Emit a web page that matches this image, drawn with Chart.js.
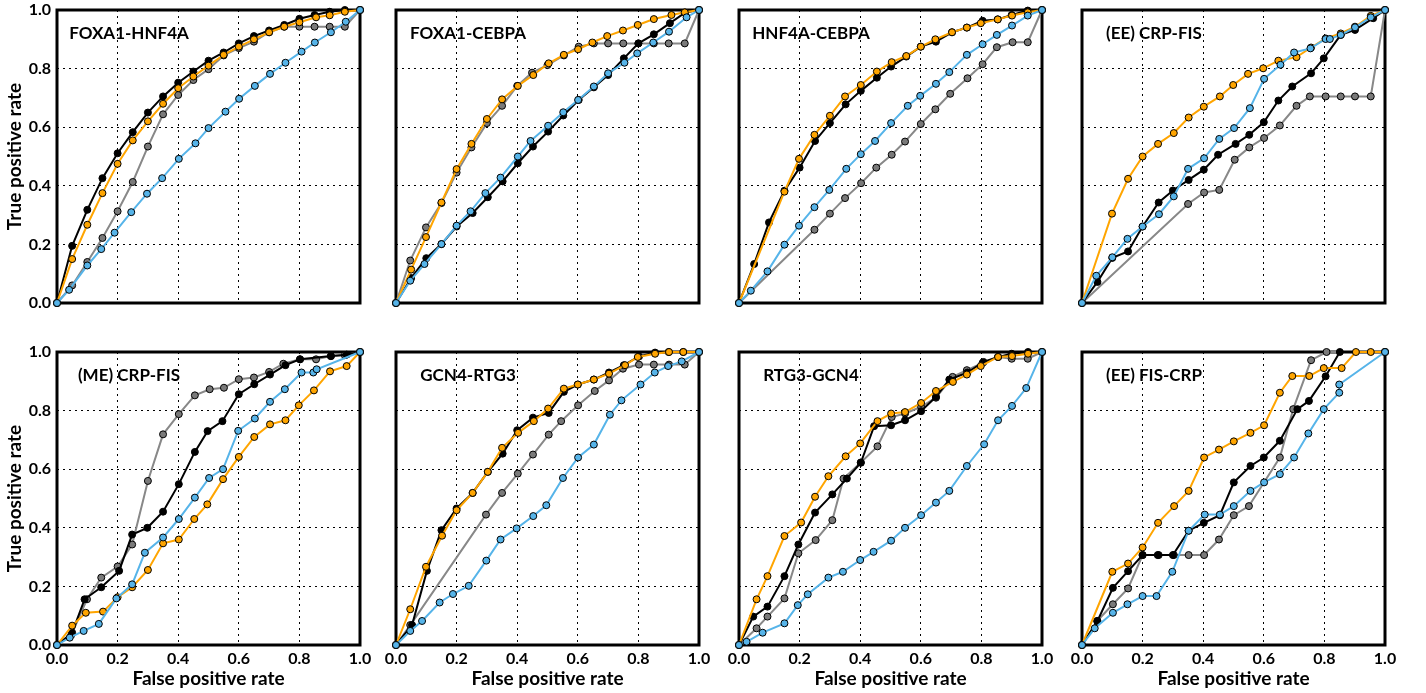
<!DOCTYPE html>
<html>
<head>
<meta charset="utf-8">
<script src="https://cdn.jsdelivr.net/npm/chart.js@4"></script>
<style>
  html, body { margin: 0; padding: 0; background: #fff; }
  body { width: 1426px; height: 693px; position: relative; overflow: hidden; }
  canvas { position: absolute; }
</style>
</head>
<body>
<script>
// panel names, left to right, top to bottom
const panelTitles = ['FOXA1-HNF4A', 'FOXA1-CEBPA', 'HNF4A-CEBPA', '(EE) CRP-FIS',
                     '(ME) CRP-FIS', 'GCN4-RTG3', 'RTG3-GCN4', '(EE) FIS-CRP'];
const tickLabels = ['0.0', '0.2', '0.4', '0.6', '0.8', '1.0'];
const xTitle = 'False positive rate';
const yTitle = 'True positive rate';

// ROC points [fpr, tpr]
const foxa1Hnf4aBlack = [[0,0],[0.05,0.195],[0.1,0.318],[0.15,0.426],[0.2,0.511],[0.25,0.583],[0.3,0.65],[0.35,0.705],[0.4,0.752],[0.45,0.79],[0.5,0.827],[0.55,0.855],[0.6,0.886],[0.65,0.911],[0.7,0.93],[0.75,0.949],[0.8,0.97],[0.85,0.983],[0.9,0.994],[0.95,1],[1,1]];
const foxa1Hnf4aOrange = [[0,0],[0.05,0.15],[0.1,0.267],[0.15,0.375],[0.2,0.475],[0.25,0.555],[0.3,0.62],[0.35,0.68],[0.4,0.733],[0.45,0.773],[0.5,0.81],[0.55,0.847],[0.6,0.875],[0.65,0.9],[0.7,0.924],[0.75,0.943],[0.8,0.958],[0.855,0.975],[0.9,0.982],[0.95,0.994],[1,1]];
const foxa1Hnf4aGray = [[0,0],[0.05,0.06],[0.1,0.14],[0.15,0.222],[0.2,0.313],[0.25,0.413],[0.3,0.534],[0.35,0.644],[0.4,0.71],[0.45,0.761],[0.5,0.798],[0.55,0.845],[0.6,0.87],[0.65,0.892],[0.7,0.924],[0.75,0.943],[0.8,0.943],[0.85,0.943],[0.9,0.943],[0.95,0.943],[1,1]];
const foxa1Hnf4aBlue = [[0,0],[0.04,0.045],[0.1,0.128],[0.146,0.184],[0.19,0.24],[0.245,0.31],[0.297,0.373],[0.347,0.426],[0.402,0.492],[0.457,0.545],[0.5,0.597],[0.556,0.653],[0.601,0.697],[0.653,0.741],[0.703,0.782],[0.754,0.82],[0.807,0.858],[0.851,0.889],[0.904,0.924],[0.953,0.96],[1,1]];

const foxa1CebpaBlack = [[0,0],[0.05,0.085],[0.1,0.153],[0.15,0.201],[0.2,0.261],[0.253,0.307],[0.303,0.361],[0.352,0.415],[0.402,0.477],[0.452,0.534],[0.502,0.585],[0.552,0.64],[0.603,0.693],[0.653,0.736],[0.7,0.778],[0.752,0.835],[0.8,0.886],[0.851,0.917],[0.904,0.955],[0.954,0.991],[1,1]];
const foxa1CebpaOrange = [[0,0],[0.05,0.114],[0.099,0.225],[0.15,0.343],[0.2,0.457],[0.249,0.543],[0.3,0.628],[0.35,0.695],[0.402,0.741],[0.453,0.778],[0.504,0.818],[0.554,0.847],[0.601,0.866],[0.648,0.889],[0.697,0.911],[0.749,0.93],[0.798,0.949],[0.851,0.969],[0.909,0.983],[0.953,0.992],[1,1]];
const foxa1CebpaGray = [[0,0],[0.047,0.145],[0.099,0.258],[0.15,0.341],[0.2,0.445],[0.249,0.531],[0.3,0.614],[0.35,0.673],[0.4,0.741],[0.449,0.786],[0.5,0.812],[0.554,0.845],[0.603,0.875],[0.653,0.886],[0.7,0.886],[0.75,0.886],[0.8,0.886],[0.851,0.886],[0.9,0.886],[0.953,0.886],[1,1]];
const foxa1CebpaBlue = [[0,0],[0.047,0.076],[0.094,0.133],[0.15,0.201],[0.2,0.264],[0.246,0.313],[0.295,0.375],[0.345,0.428],[0.402,0.5],[0.444,0.553],[0.502,0.605],[0.552,0.651],[0.601,0.693],[0.653,0.739],[0.7,0.784],[0.754,0.82],[0.796,0.852],[0.849,0.889],[0.901,0.926],[0.959,0.975],[1,1]];

const hnf4aCebpaBlack = [[0,0],[0.05,0.133],[0.099,0.275],[0.15,0.383],[0.2,0.462],[0.251,0.553],[0.3,0.614],[0.352,0.678],[0.402,0.724],[0.455,0.769],[0.502,0.807],[0.552,0.841],[0.6,0.875],[0.65,0.892],[0.703,0.924],[0.752,0.94],[0.804,0.963],[0.854,0.968],[0.9,0.983],[0.953,0.998],[1,1]];
const hnf4aCebpaOrange = [[0,0],[0.15,0.38],[0.198,0.492],[0.249,0.574],[0.3,0.639],[0.35,0.705],[0.402,0.744],[0.455,0.79],[0.504,0.822],[0.552,0.843],[0.6,0.875],[0.648,0.9],[0.703,0.924],[0.752,0.94],[0.798,0.955],[0.854,0.968],[0.901,0.981],[0.953,0.992],[1,1]];
const hnf4aCebpaGray = [[0,0],[0.249,0.25],[0.3,0.305],[0.35,0.358],[0.403,0.409],[0.453,0.462],[0.504,0.506],[0.548,0.551],[0.6,0.611],[0.648,0.661],[0.697,0.714],[0.754,0.767],[0.804,0.815],[0.851,0.873],[0.903,0.89],[0.953,0.89],[1,1]];
const hnf4aCebpaBlue = [[0,0],[0.039,0.042],[0.094,0.108],[0.15,0.199],[0.198,0.264],[0.249,0.327],[0.298,0.386],[0.354,0.458],[0.402,0.508],[0.449,0.553],[0.502,0.614],[0.557,0.673],[0.598,0.707],[0.65,0.748],[0.694,0.788],[0.752,0.847],[0.804,0.883],[0.851,0.915],[0.901,0.947],[0.953,0.981],[1,1]];

const eeCrpFisBlack = [[0,0],[0.051,0.072],[0.1,0.154],[0.152,0.176],[0.2,0.261],[0.253,0.343],[0.3,0.384],[0.352,0.42],[0.402,0.455],[0.449,0.506],[0.507,0.543],[0.552,0.574],[0.6,0.617],[0.648,0.691],[0.694,0.739],[0.756,0.784],[0.798,0.835],[0.854,0.915],[0.901,0.932],[0.961,0.972],[1,1]];
const eeCrpFisOrange = [[0,0],[0.099,0.305],[0.152,0.424],[0.2,0.5],[0.251,0.543],[0.303,0.58],[0.352,0.633],[0.402,0.67],[0.455,0.705],[0.499,0.744],[0.548,0.782],[0.598,0.801],[0.648,0.827],[0.708,0.839],[0.756,0.872],[0.804,0.903],[0.854,0.92],[0.901,0.943],[0.953,0.98],[1,1]];
const eeCrpFisGray = [[0,0],[0.35,0.338],[0.403,0.377],[0.453,0.386],[0.504,0.489],[0.552,0.531],[0.601,0.563],[0.653,0.606],[0.708,0.673],[0.752,0.705],[0.804,0.705],[0.854,0.705],[0.901,0.705],[0.953,0.705],[1,1]];
const eeCrpFisBlue = [[0,0],[0.047,0.093],[0.1,0.156],[0.15,0.219],[0.2,0.261],[0.254,0.303],[0.303,0.364],[0.35,0.458],[0.403,0.494],[0.453,0.56],[0.502,0.597],[0.554,0.665],[0.601,0.765],[0.655,0.813],[0.7,0.855],[0.754,0.869],[0.804,0.901],[0.818,0.901],[0.854,0.915],[0.901,0.941],[0.953,0.975],[1,1]];

const meCrpFisBlack = [[0,0],[0.05,0.042],[0.091,0.156],[0.146,0.197],[0.205,0.253],[0.248,0.377],[0.298,0.4],[0.35,0.455],[0.402,0.549],[0.455,0.659],[0.497,0.73],[0.546,0.764],[0.6,0.856],[0.651,0.89],[0.703,0.923],[0.754,0.955],[0.802,0.975],[0.904,0.986],[0.956,0.991],[1,1]];
const meCrpFisOrange = [[0,0],[0.05,0.066],[0.095,0.11],[0.152,0.114],[0.2,0.163],[0.248,0.197],[0.3,0.256],[0.35,0.347],[0.402,0.36],[0.453,0.43],[0.496,0.48],[0.548,0.566],[0.6,0.642],[0.651,0.71],[0.703,0.753],[0.754,0.767],[0.798,0.818],[0.848,0.869],[0.901,0.934],[0.956,0.952],[1,1]];
const meCrpFisGray = [[0,0],[0.047,0.034],[0.099,0.156],[0.146,0.23],[0.2,0.268],[0.248,0.343],[0.3,0.56],[0.35,0.719],[0.402,0.788],[0.455,0.852],[0.504,0.873],[0.551,0.878],[0.6,0.907],[0.65,0.913],[0.7,0.932],[0.747,0.96],[0.802,0.975],[0.855,0.975],[0.904,0.986],[0.95,0.989],[1,1]];
const meCrpFisBlue = [[0,0],[0.042,0.025],[0.088,0.048],[0.138,0.072],[0.196,0.159],[0.248,0.207],[0.29,0.315],[0.35,0.367],[0.402,0.43],[0.455,0.503],[0.502,0.57],[0.548,0.6],[0.598,0.731],[0.653,0.773],[0.703,0.83],[0.752,0.873],[0.807,0.93],[0.846,0.93],[0.857,0.941],[1,1]];

const gcn4Rtg3Black = [[0,0],[0.053,0.068],[0.102,0.253],[0.15,0.392],[0.2,0.466],[0.253,0.519],[0.303,0.591],[0.352,0.653],[0.4,0.733],[0.452,0.776],[0.504,0.792],[0.554,0.864],[0.6,0.889],[0.653,0.906],[0.703,0.93],[0.752,0.955],[0.802,0.985],[0.855,0.998],[0.9,1],[0.948,1],[1,1]];
const gcn4Rtg3Orange = [[0,0],[0.047,0.122],[0.099,0.267],[0.152,0.373],[0.2,0.46],[0.253,0.519],[0.303,0.591],[0.35,0.673],[0.403,0.724],[0.455,0.764],[0.502,0.807],[0.554,0.875],[0.6,0.889],[0.653,0.906],[0.703,0.926],[0.756,0.955],[0.798,0.983],[0.855,0.994],[0.901,1],[0.948,1],[1,1]];
const gcn4Rtg3Gray = [[0,0],[0.047,0.068],[0.297,0.445],[0.35,0.519],[0.402,0.585],[0.452,0.65],[0.504,0.718],[0.545,0.764],[0.601,0.818],[0.656,0.867],[0.703,0.903],[0.749,0.943],[0.802,0.957],[0.851,0.957],[0.901,0.957],[0.953,0.957],[1,1]];
const gcn4Rtg3Blue = [[0,0],[0.047,0.048],[0.086,0.082],[0.144,0.145],[0.188,0.174],[0.24,0.202],[0.298,0.288],[0.345,0.36],[0.398,0.398],[0.453,0.44],[0.496,0.477],[0.551,0.57],[0.601,0.64],[0.653,0.684],[0.706,0.786],[0.744,0.835],[0.807,0.889],[0.854,0.93],[0.898,0.952],[0.943,0.968],[1,1]];

const rtg3Gcn4Black = [[0,0],[0.047,0.097],[0.094,0.131],[0.15,0.235],[0.196,0.343],[0.251,0.452],[0.308,0.514],[0.356,0.568],[0.402,0.622],[0.446,0.747],[0.502,0.75],[0.548,0.767],[0.601,0.798],[0.65,0.847],[0.694,0.906],[0.754,0.93],[0.807,0.966],[0.855,0.983],[0.9,0.994],[0.954,1],[1,1]];
const rtg3Gcn4Orange = [[0,0],[0.058,0.156],[0.094,0.235],[0.15,0.372],[0.205,0.418],[0.251,0.506],[0.295,0.576],[0.352,0.644],[0.4,0.688],[0.457,0.764],[0.502,0.79],[0.548,0.795],[0.601,0.826],[0.65,0.867],[0.706,0.898],[0.752,0.923],[0.798,0.952],[0.855,0.983],[0.901,0.986],[0.954,0.994],[1,1]];
const rtg3Gcn4Gray = [[0,0],[0.058,0.057],[0.094,0.097],[0.15,0.159],[0.196,0.313],[0.253,0.358],[0.308,0.426],[0.345,0.568],[0.402,0.623],[0.457,0.678],[0.504,0.778],[0.548,0.79],[0.601,0.813],[0.65,0.844],[0.705,0.915],[0.752,0.938],[0.804,0.963],[0.855,0.983],[0.9,0.977],[0.953,0.977],[1,1]];
const rtg3Gcn4Blue = [[0,0],[0.025,0.011],[0.078,0.042],[0.15,0.074],[0.194,0.136],[0.227,0.173],[0.295,0.23],[0.343,0.25],[0.4,0.29],[0.444,0.318],[0.502,0.356],[0.548,0.4],[0.601,0.443],[0.65,0.486],[0.694,0.526],[0.752,0.611],[0.809,0.685],[0.855,0.767],[0.901,0.816],[0.948,0.877],[1,1]];

const eeFisCrpBlack = [[0,0],[0.051,0.082],[0.102,0.195],[0.152,0.252],[0.2,0.307],[0.25,0.307],[0.3,0.307],[0.352,0.39],[0.402,0.417],[0.455,0.443],[0.501,0.555],[0.556,0.611],[0.6,0.64],[0.653,0.697],[0.711,0.805],[0.749,0.833],[0.804,0.917],[0.851,1],[1,1]];
const eeFisCrpOrange = [[0,0],[0.1,0.25],[0.152,0.278],[0.2,0.333],[0.251,0.417],[0.304,0.474],[0.352,0.526],[0.403,0.64],[0.452,0.667],[0.501,0.695],[0.556,0.724],[0.601,0.75],[0.653,0.861],[0.694,0.918],[0.75,0.918],[0.798,0.945],[0.857,0.945],[0.904,1],[0.953,1],[1,1]];
const eeFisCrpGray = [[0,0],[0.05,0.082],[0.102,0.139],[0.152,0.193],[0.2,0.307],[0.253,0.307],[0.303,0.307],[0.352,0.307],[0.403,0.307],[0.452,0.36],[0.501,0.443],[0.551,0.474],[0.653,0.64],[0.697,0.805],[0.756,0.972],[0.807,1],[1,1]];
const eeFisCrpBlue = [[0,0],[0.042,0.057],[0.102,0.11],[0.15,0.139],[0.2,0.167],[0.246,0.167],[0.298,0.25],[0.352,0.39],[0.405,0.445],[0.455,0.445],[0.501,0.474],[0.556,0.526],[0.601,0.555],[0.653,0.583],[0.7,0.64],[0.747,0.722],[0.798,0.805],[0.849,0.861],[0.849,0.889],[1,1]];

// each panel: [blue, orange, black, gray] -> first one ends up drawn on top
const panels = [
  [foxa1Hnf4aBlue, foxa1Hnf4aOrange, foxa1Hnf4aBlack, foxa1Hnf4aGray],
  [foxa1CebpaBlue, foxa1CebpaOrange, foxa1CebpaBlack, foxa1CebpaGray],
  [hnf4aCebpaBlue, hnf4aCebpaOrange, hnf4aCebpaBlack, hnf4aCebpaGray],
  [eeCrpFisBlue, eeCrpFisOrange, eeCrpFisBlack, eeCrpFisGray],
  [meCrpFisBlue, meCrpFisOrange, meCrpFisBlack, meCrpFisGray],
  [gcn4Rtg3Blue, gcn4Rtg3Orange, gcn4Rtg3Black, gcn4Rtg3Gray],
  [rtg3Gcn4Blue, rtg3Gcn4Orange, rtg3Gcn4Black, rtg3Gcn4Gray],
  [eeFisCrpBlue, eeFisCrpOrange, eeFisCrpBlack, eeFisCrpGray]
];
const lineColors = ['#56b4e9', '#ffa500', '#000000', '#888888'];
const dotColors = ['#56b4e9', '#ffa500', '#000000', '#7a7a7a'];

// layout of the plot boxes on the page
const plotLefts = [57, 396, 739, 1082];
const plotTops = [10, 352];
const plotW = 303, plotH = 293;
const FONT = 'Lato, "DejaVu Sans", sans-serif';

Chart.defaults.font.family = FONT;
Chart.defaults.color = '#000';

const panelDeco = {
  id: 'panelDeco',
  beforeDraw(chart) {
    const {ctx, chartArea} = chart;
    ctx.save();
    ctx.font = 'bold 17px ' + FONT;
    ctx.fillStyle = '#000';
    ctx.textAlign = 'center';
    ctx.textBaseline = 'middle';
    ctx.fillText(chart.options.plugins.panelDeco.title, chartArea.left + 72, chartArea.top + 24);
    ctx.restore();
  },
  beforeDatasetsDraw(chart) {
    const {ctx, chartArea} = chart;
    ctx.save();
    ctx.strokeStyle = '#000';
    ctx.lineWidth = 3;
    ctx.strokeRect(chartArea.left, chartArea.top, chartArea.right - chartArea.left, chartArea.bottom - chartArea.top);
    ctx.restore();
  }
};

function makePanel(idx) {
  const col = idx % 4, row = Math.floor(idx / 4);
  const L = col === 0 ? 57 : 12, R = 14, T = 10, B = row === 1 ? 48 : 10;
  const W = L + plotW + R, H = T + plotH + B;
  const cv = document.createElement('canvas');
  cv.width = W; cv.height = H;
  cv.style.left = (plotLefts[col] - L) + 'px';
  cv.style.top = (plotTops[row] - T) + 'px';
  cv.style.width = W + 'px';
  cv.style.height = H + 'px';
  document.body.appendChild(cv);

  const datasets = panels[idx].map((pts, i) => ({
    data: pts,
    borderColor: lineColors[i],
    backgroundColor: dotColors[i],
    borderWidth: 2,
    pointRadius: 3.5,
    pointBorderWidth: 1,
    pointBorderColor: '#000',
    pointBackgroundColor: dotColors[i],
    tension: 0,
    clip: false
  }));

  new Chart(cv, {
    type: 'line',
    data: {datasets},
    plugins: [panelDeco],
    options: {
      responsive: false,
      animation: false,
      devicePixelRatio: 1,
      layout: {padding: {left: 0, top: T, right: R, bottom: 0}},
      plugins: {
        legend: {display: false},
        tooltip: {enabled: false},
        panelDeco: {title: panelTitles[idx]}
      },
      scales: {
        x: {
          type: 'linear', min: 0, max: 1,
          grid: {color: '#000', lineWidth: 1, drawTicks: false},
          border: {display: false, dash: [2, 4]},
          ticks: {
            display: row === 1, stepSize: 0.2, padding: 4, maxRotation: 0,
            font: {size: 16, weight: 'bold'},
            callback: (v, i) => tickLabels[i]
          },
          title: {display: row === 1, text: xTitle, font: {size: 19, weight: 'bold'}, padding: {top: 0, bottom: 3}},
          afterFit: s => { s.height = B; s.paddingLeft = 0; s.paddingRight = 0; }
        },
        y: {
          type: 'linear', min: 0, max: 1,
          grid: {color: '#000', lineWidth: 1, drawTicks: false},
          border: {display: false, dash: [2, 4]},
          ticks: {
            display: col === 0, stepSize: 0.2, padding: 6,
            font: {size: 16, weight: 'bold'},
            callback: (v, i) => tickLabels[i]
          },
          title: {display: col === 0, text: yTitle, font: {size: 19, weight: 'bold'}, padding: {top: 3, bottom: 0}},
          afterFit: s => { s.width = L; s.paddingTop = 0; s.paddingBottom = 0; }
        }
      }
    }
  });
}

for (let i = 0; i < panels.length; i++) makePanel(i);
</script>
</body>
</html>
